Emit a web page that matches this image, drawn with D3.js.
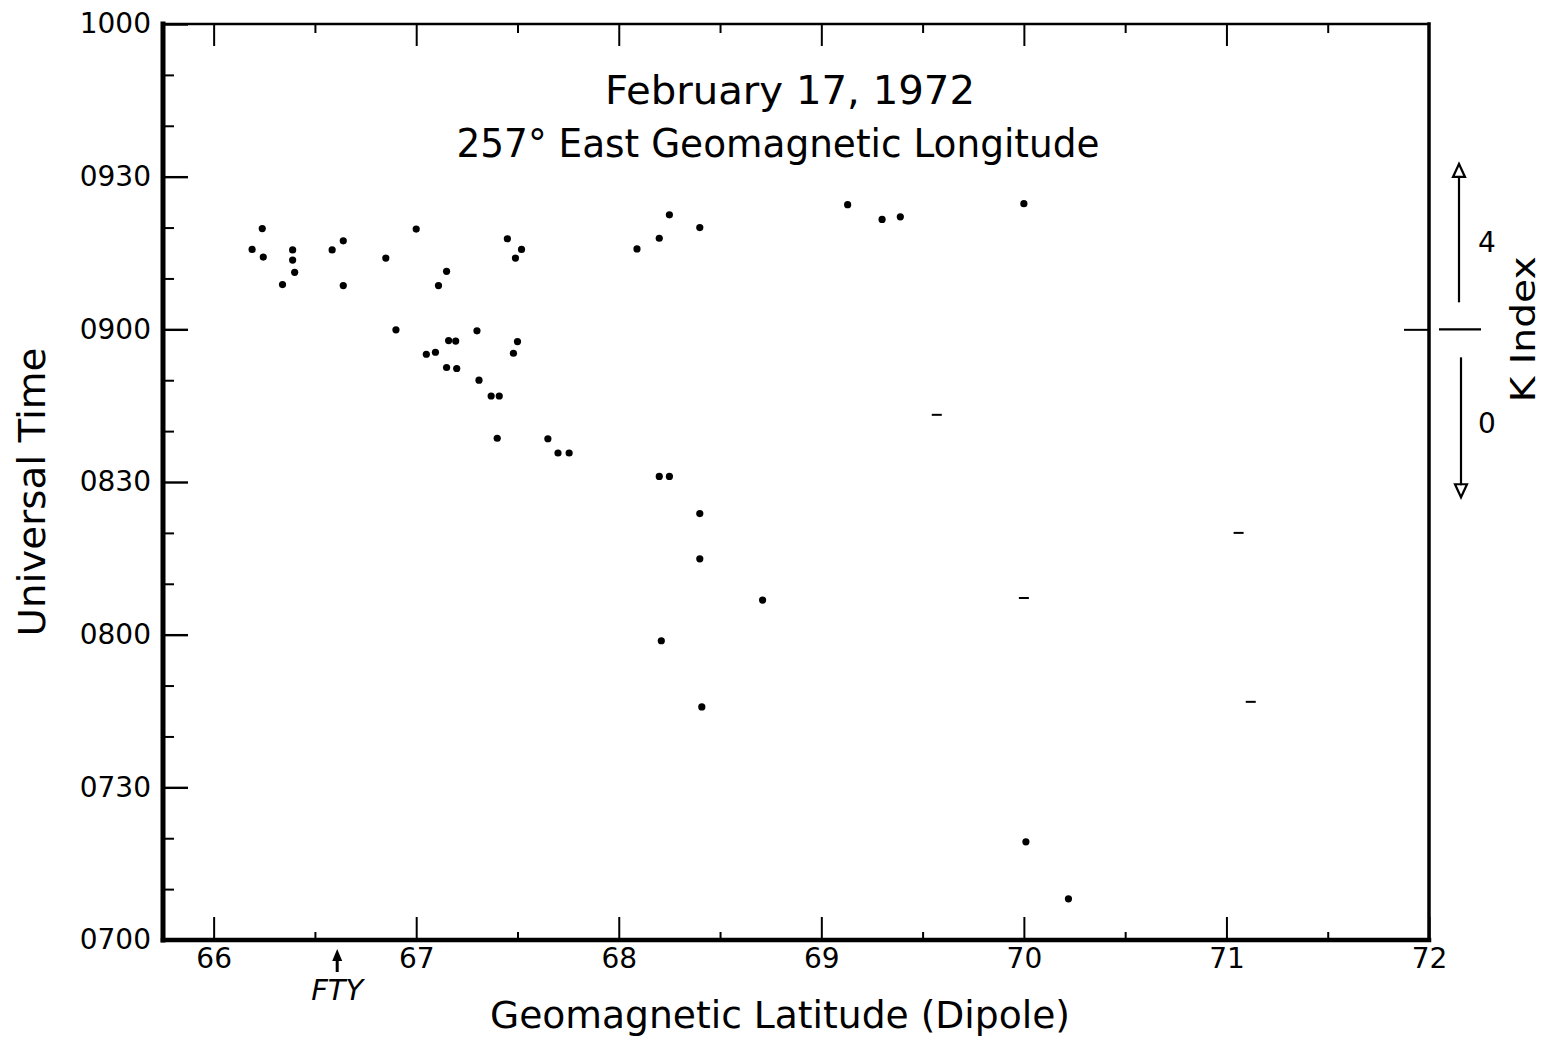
<!DOCTYPE html>
<html>
<head>
<meta charset="utf-8">
<script src="https://cdn.jsdelivr.net/npm/d3@7"></script>
<style>
  html, body { margin: 0; padding: 0; background: #fff; }
  svg { display: block; }
  text { font-family: "DejaVu Sans", sans-serif; fill: #000; }
</style>
</head>
<body>
<div id="chart"></div>
<script>
(function() {
    'use strict';

    // geomagnetic latitude (deg) of each observation
    var latitude = [
        66.19, 66.24, 66.245, 66.39, 66.39, 66.40, 66.34,
        66.585, 66.64, 66.64, 66.85, 67.00, 66.90,
        67.05, 67.095, 67.16, 67.195, 67.15, 67.20, 67.11, 67.15,
        67.30, 67.31, 67.37, 67.41, 67.40,
        67.45, 67.49, 67.52, 67.50, 67.48,
        67.65, 67.70, 67.755,
        68.09, 68.20, 68.25, 68.40,
        69.13, 69.30, 69.39, 70.00,
        68.20, 68.25, 68.40, 68.40, 68.71, 68.21, 68.41,
        70.01, 70.22
    ];
    // universal time, hhmm (minutes may be fractional)
    var universalTime = [
        915.7, 919.8, 914.2, 915.6, 913.6, 911.2, 908.8,
        915.6, 917.4, 908.6, 914.0, 919.7, 859.9,
        855.1, 855.5, 857.8, 857.7, 852.5, 852.3, 908.6, 911.4,
        859.7, 850.0, 846.9, 846.9, 838.6,
        917.8, 914.0, 915.7, 857.6, 855.3,
        838.5, 835.7, 835.7,
        915.8, 917.9, 922.5, 920.0,
        924.5, 921.6, 922.1, 924.7,
        831.1, 831.1, 823.8, 814.9, 806.8, 758.8, 745.8,
        719.3, 708.1
    ];

    // short dash marks
    var dashLatitude = [69.57, 70.00, 71.06, 71.12];
    var dashTime = [843.2, 807.2, 820.0, 746.8];

    var xMajorTicks = [66, 67, 68, 69, 70, 71, 72];
    var xMinorTicks = [66.5, 67.5, 68.5, 69.5, 70.5, 71.5];
    var yMajorTicks = [700, 730, 800, 830, 900, 930, 1000];
    var yTickLabels = ['0700', '0730', '0800', '0830', '0900', '0930', '1000'];
    var yMinorTicks = [710, 720, 740, 750, 810, 820, 840, 850, 910, 920, 940, 950];

    var station = { name: 'FTY', lat: 66.61 };
    var kIndex = { labels: ['4', '0'], divider: 900, top: 932.5, bottom: 827 };

    var title1 = 'February 17, 1972';
    var title2 = '257\u00b0 East Geomagnetic Longitude';
    var xTitle = 'Geomagnetic Latitude (Dipole)';
    var yTitle = 'Universal Time';
    var kTitle = 'K Index';

    var width = 1546, height = 1037;

    var toMin = function(hhmm) {
        var h = Math.floor(hhmm / 100);
        return h * 60 + (hhmm - h * 100);
    };

    var x = d3.scaleLinear().domain([65.75, 72]).range([163, 1429]);
    var y = d3.scaleLinear().domain([420, 600]).range([940, 24]);

    var svg = d3.select('#chart').append('svg')
        .attr('width', width)
        .attr('height', height);

    var points = latitude.map(function(d, i) {
        return { lat: d, ut: toMin(universalTime[i]) };
    });

    // axes: ticks point inward, domain drawn separately as a frame
    var styleAxis = function(g, sw) {
        g.select('.domain').remove();
        g.selectAll('.tick line').attr('stroke', '#000').attr('stroke-width', sw);
    };

    svg.append('g')
        .attr('transform', 'translate(' + x.range()[0] + ',0)')
        .call(d3.axisLeft(y).tickValues(yMinorTicks.map(toMin)).tickSize(-11).tickFormat(''))
        .call(styleAxis, 2);

    svg.append('g')
        .attr('transform', 'translate(' + x.range()[0] + ',0)')
        .call(d3.axisLeft(y).tickValues(yMajorTicks.map(toMin)).tickSize(-25).tickPadding(12)
            .tickFormat(function(d, i) { return yTickLabels[i]; }))
        .call(styleAxis, 2.4)
        .selectAll('text')
        .style('font-size', '28px')
        .style('font-family', '"DejaVu Sans", sans-serif');

    svg.append('g')
        .attr('transform', 'translate(' + x.range()[1] + ',0)')
        .call(d3.axisRight(y).tickValues([toMin(kIndex.divider)]).tickSize(-25).tickFormat(''))
        .call(styleAxis, 2);

    svg.append('g')
        .attr('transform', 'translate(0,' + y.range()[0] + ')')
        .call(d3.axisBottom(x).tickValues(xMinorTicks).tickSize(-8).tickFormat(''))
        .call(styleAxis, 2);

    svg.append('g')
        .attr('transform', 'translate(0,' + y.range()[0] + ')')
        .call(d3.axisBottom(x).tickValues(xMajorTicks).tickSize(-23).tickPadding(8)
            .tickFormat(function(d) { return d; }))
        .call(styleAxis, 2)
        .selectAll('text')
        .style('font-size', '28px')
        .style('font-family', '"DejaVu Sans", sans-serif');

    svg.append('g')
        .attr('transform', 'translate(0,' + y.range()[1] + ')')
        .call(d3.axisTop(x).tickValues(xMinorTicks).tickSize(-9).tickFormat(''))
        .call(styleAxis, 2);

    svg.append('g')
        .attr('transform', 'translate(0,' + y.range()[1] + ')')
        .call(d3.axisTop(x).tickValues(xMajorTicks.slice(0, -1)).tickSize(-22).tickFormat(''))
        .call(styleAxis, 2);

    // frame
    var x0 = x.range()[0], x1 = x.range()[1], yb = y.range()[0], yt = y.range()[1];
    var frame = svg.append('g').attr('stroke', '#000').attr('stroke-linecap', 'square');
    frame.append('line').attr('x1', x0).attr('x2', x1).attr('y1', yt).attr('y2', yt).attr('stroke-width', 2.5);
    frame.append('line').attr('x1', x1).attr('x2', x1).attr('y1', yt).attr('y2', yb).attr('stroke-width', 3.5);
    frame.append('line').attr('x1', x0).attr('x2', x1).attr('y1', yb).attr('y2', yb).attr('stroke-width', 4.5);
    frame.append('line').attr('x1', x0).attr('x2', x0).attr('y1', yt).attr('y2', yb).attr('stroke-width', 5);

    // observations
    svg.append('g').selectAll('circle')
        .data(points)
        .join('circle')
        .attr('cx', function(d) { return x(d.lat); })
        .attr('cy', function(d) { return y(d.ut); })
        .attr('r', 3.6)
        .attr('fill', '#000');

    svg.append('g').selectAll('line')
        .data(dashLatitude)
        .join('line')
        .attr('x1', function(d) { return x(d) - 5; })
        .attr('x2', function(d) { return x(d) + 5; })
        .attr('y1', function(d, i) { return y(toMin(dashTime[i])); })
        .attr('y2', function(d, i) { return y(toMin(dashTime[i])); })
        .attr('stroke', '#000')
        .attr('stroke-width', 2);

    // titles
    svg.append('text')
        .attr('x', 790).attr('y', 104)
        .attr('text-anchor', 'middle')
        .attr('textLength', 370).attr('lengthAdjust', 'spacingAndGlyphs')
        .style('font-size', '39px')
        .text(title1);

    svg.append('text')
        .attr('x', 778).attr('y', 157)
        .attr('text-anchor', 'middle')
        .attr('textLength', 643).attr('lengthAdjust', 'spacingAndGlyphs')
        .style('font-size', '39px')
        .text(title2);

    svg.append('text')
        .attr('x', 780).attr('y', 1028)
        .attr('text-anchor', 'middle')
        .attr('textLength', 580).attr('lengthAdjust', 'spacingAndGlyphs')
        .style('font-size', '37px')
        .text(xTitle);

    svg.append('text')
        .attr('transform', 'translate(45,492) rotate(-90)')
        .attr('text-anchor', 'middle')
        .attr('textLength', 289).attr('lengthAdjust', 'spacingAndGlyphs')
        .style('font-size', '37px')
        .text(yTitle);

    // station marker
    var sx = x(station.lat);
    svg.append('line')
        .attr('x1', sx).attr('x2', sx)
        .attr('y1', 958).attr('y2', 972)
        .attr('stroke', '#000').attr('stroke-width', 3);
    svg.append('path')
        .attr('d', 'M' + sx + ',949L' + (sx - 5) + ',961L' + (sx + 5) + ',961Z')
        .attr('fill', '#000');
    svg.append('text')
        .attr('x', sx).attr('y', 1000)
        .attr('text-anchor', 'middle')
        .style('font-size', '29px')
        .style('font-style', 'italic')
        .text(station.name);

    // K index annotation
    var kd = y(toMin(kIndex.divider));
    var kt = y(toMin(kIndex.top));
    var kb = y(toMin(kIndex.bottom));
    var k = svg.append('g').attr('stroke', '#000').attr('fill', 'none').attr('stroke-width', 2.2);
    k.append('line').attr('x1', 1439).attr('x2', 1481).attr('y1', kd).attr('y2', kd);
    k.append('line').attr('x1', 1459).attr('x2', 1459).attr('y1', kd - 27).attr('y2', kt + 12);
    k.append('path').attr('d', 'M1459,' + kt + 'L1453,' + (kt + 13) + 'L1465,' + (kt + 13) + 'Z');
    k.append('line').attr('x1', 1461).attr('x2', 1461).attr('y1', kd + 28).attr('y2', kb - 12);
    k.append('path').attr('d', 'M1461,' + kb + 'L1455,' + (kb - 13) + 'L1467,' + (kb - 13) + 'Z');

    svg.selectAll('.klabel')
        .data(kIndex.labels)
        .join('text')
        .attr('class', 'klabel')
        .attr('x', 1487)
        .attr('y', function(d, i) { return i === 0 ? (kt + kd) / 2 - 4 : (kd + kb) / 2 + 10; })
        .attr('text-anchor', 'middle')
        .attr('dominant-baseline', 'central')
        .style('font-size', '28px')
        .text(function(d) { return d; });

    svg.append('text')
        .attr('transform', 'translate(1535,' + kd + ') rotate(-90)')
        .attr('text-anchor', 'middle')
        .attr('textLength', 146).attr('lengthAdjust', 'spacingAndGlyphs')
        .style('font-size', '33px')
        .text(kTitle);
})();
</script>
</body>
</html>
